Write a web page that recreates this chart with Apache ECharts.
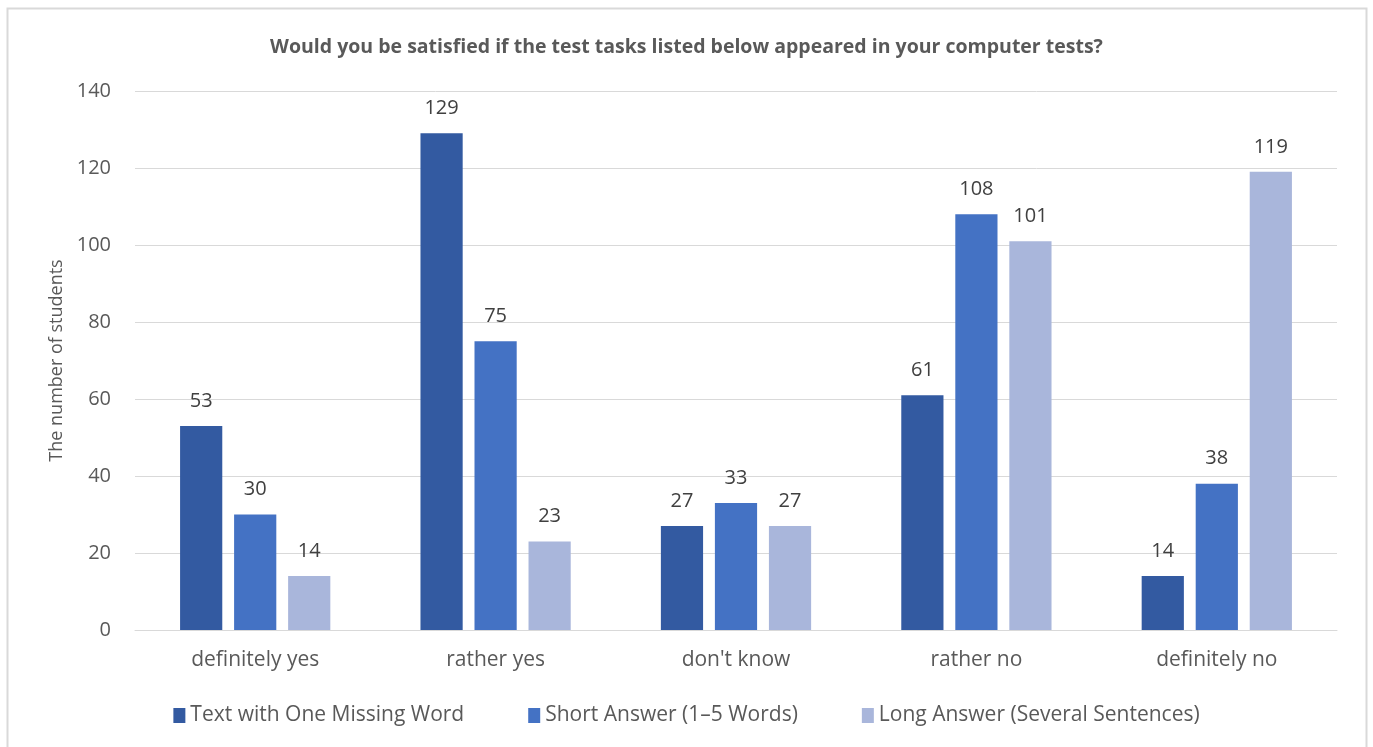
<!DOCTYPE html>
<html><head><meta charset="utf-8">
<script src="https://cdn.jsdelivr.net/npm/echarts@6/dist/echarts.min.js"></script>
<style>html,body{margin:0;padding:0;background:#fff}#c{width:1373px;height:747px}</style>
</head><body><div id="c"></div>
<script>
const categories = ["definitely yes", "rather yes", "don't know", "rather no", "definitely no"];
const seriesNames = ["Text with One Missing Word", "Short Answer (1–5 Words)", "Long Answer (Several Sentences)"];
const textMissing = [53, 129, 27, 61, 14];
const shortAnswer = [30, 75, 33, 108, 38];
const longAnswer = [14, 23, 27, 101, 119];
const yTicks = [0, 20, 40, 60, 80, 100, 120, 140];
const titleText = "Would you be satisfied if the test tasks listed below appeared in your computer tests?";
const yName = "The number of students";

const FONT = "'Open Sans', sans-serif";
const colors = ["#335AA1", "#4472C4", "#A9B6DB"];
const values = [textMissing, shortAnswer, longAnswer];

const chart = echarts.init(document.getElementById('c'), null, {renderer: 'canvas'});
chart.setOption({
  animation: false,
  textStyle: {fontFamily: FONT},
  graphic: [{type: 'rect', shape: {x: 7.5, y: 8.5, width: 1359, height: 800}, style: {fill: 'none', stroke: '#D9D9D9', lineWidth: 2}, silent: true}],
  title: {text: titleText, left: 'center', top: 32, textStyle: {fontFamily: FONT, fontSize: 19.5, fontWeight: 'bold', color: '#595959'}},
  legend: {bottom: 16, left: 'center', itemWidth: 12, itemHeight: 15, itemGap: 64,
    textStyle: {fontFamily: FONT, fontSize: 21, color: '#595959'},
    data: seriesNames.map(n => ({name: n, icon: 'rect'}))},
  grid: {left: 135, right: 36, top: 91, bottom: 117, containLabel: false},
  xAxis: {type: 'category', data: categories,
    axisLine: {lineStyle: {color: '#D9D9D9', width: 1}}, axisTick: {show: false},
    axisLabel: {fontFamily: FONT, fontSize: 21, color: '#595959', margin: 20}},
  yAxis: {type: 'value', min: 0, max: 140, interval: 20,
    name: yName, nameLocation: 'middle', nameGap: 68,
    nameTextStyle: {fontFamily: FONT, fontSize: 18, color: '#595959'},
    axisLine: {show: false}, axisTick: {show: false},
    axisLabel: {fontFamily: FONT, fontSize: 20, color: '#595959', margin: 24,
      formatter: v => yTicks.includes(v) ? String(v) : ''},
    splitLine: {lineStyle: {color: '#D9D9D9', width: 1}}},
  series: values.map((v, i) => ({
    name: seriesNames[i], type: 'bar', data: v, barGap: '28%', barCategoryGap: '37.5%',
    itemStyle: {color: colors[i]},
    label: {show: true, position: 'top', distance: 15, fontFamily: FONT, fontSize: 20, color: '#404040'}
  }))
});
</script></body></html>
